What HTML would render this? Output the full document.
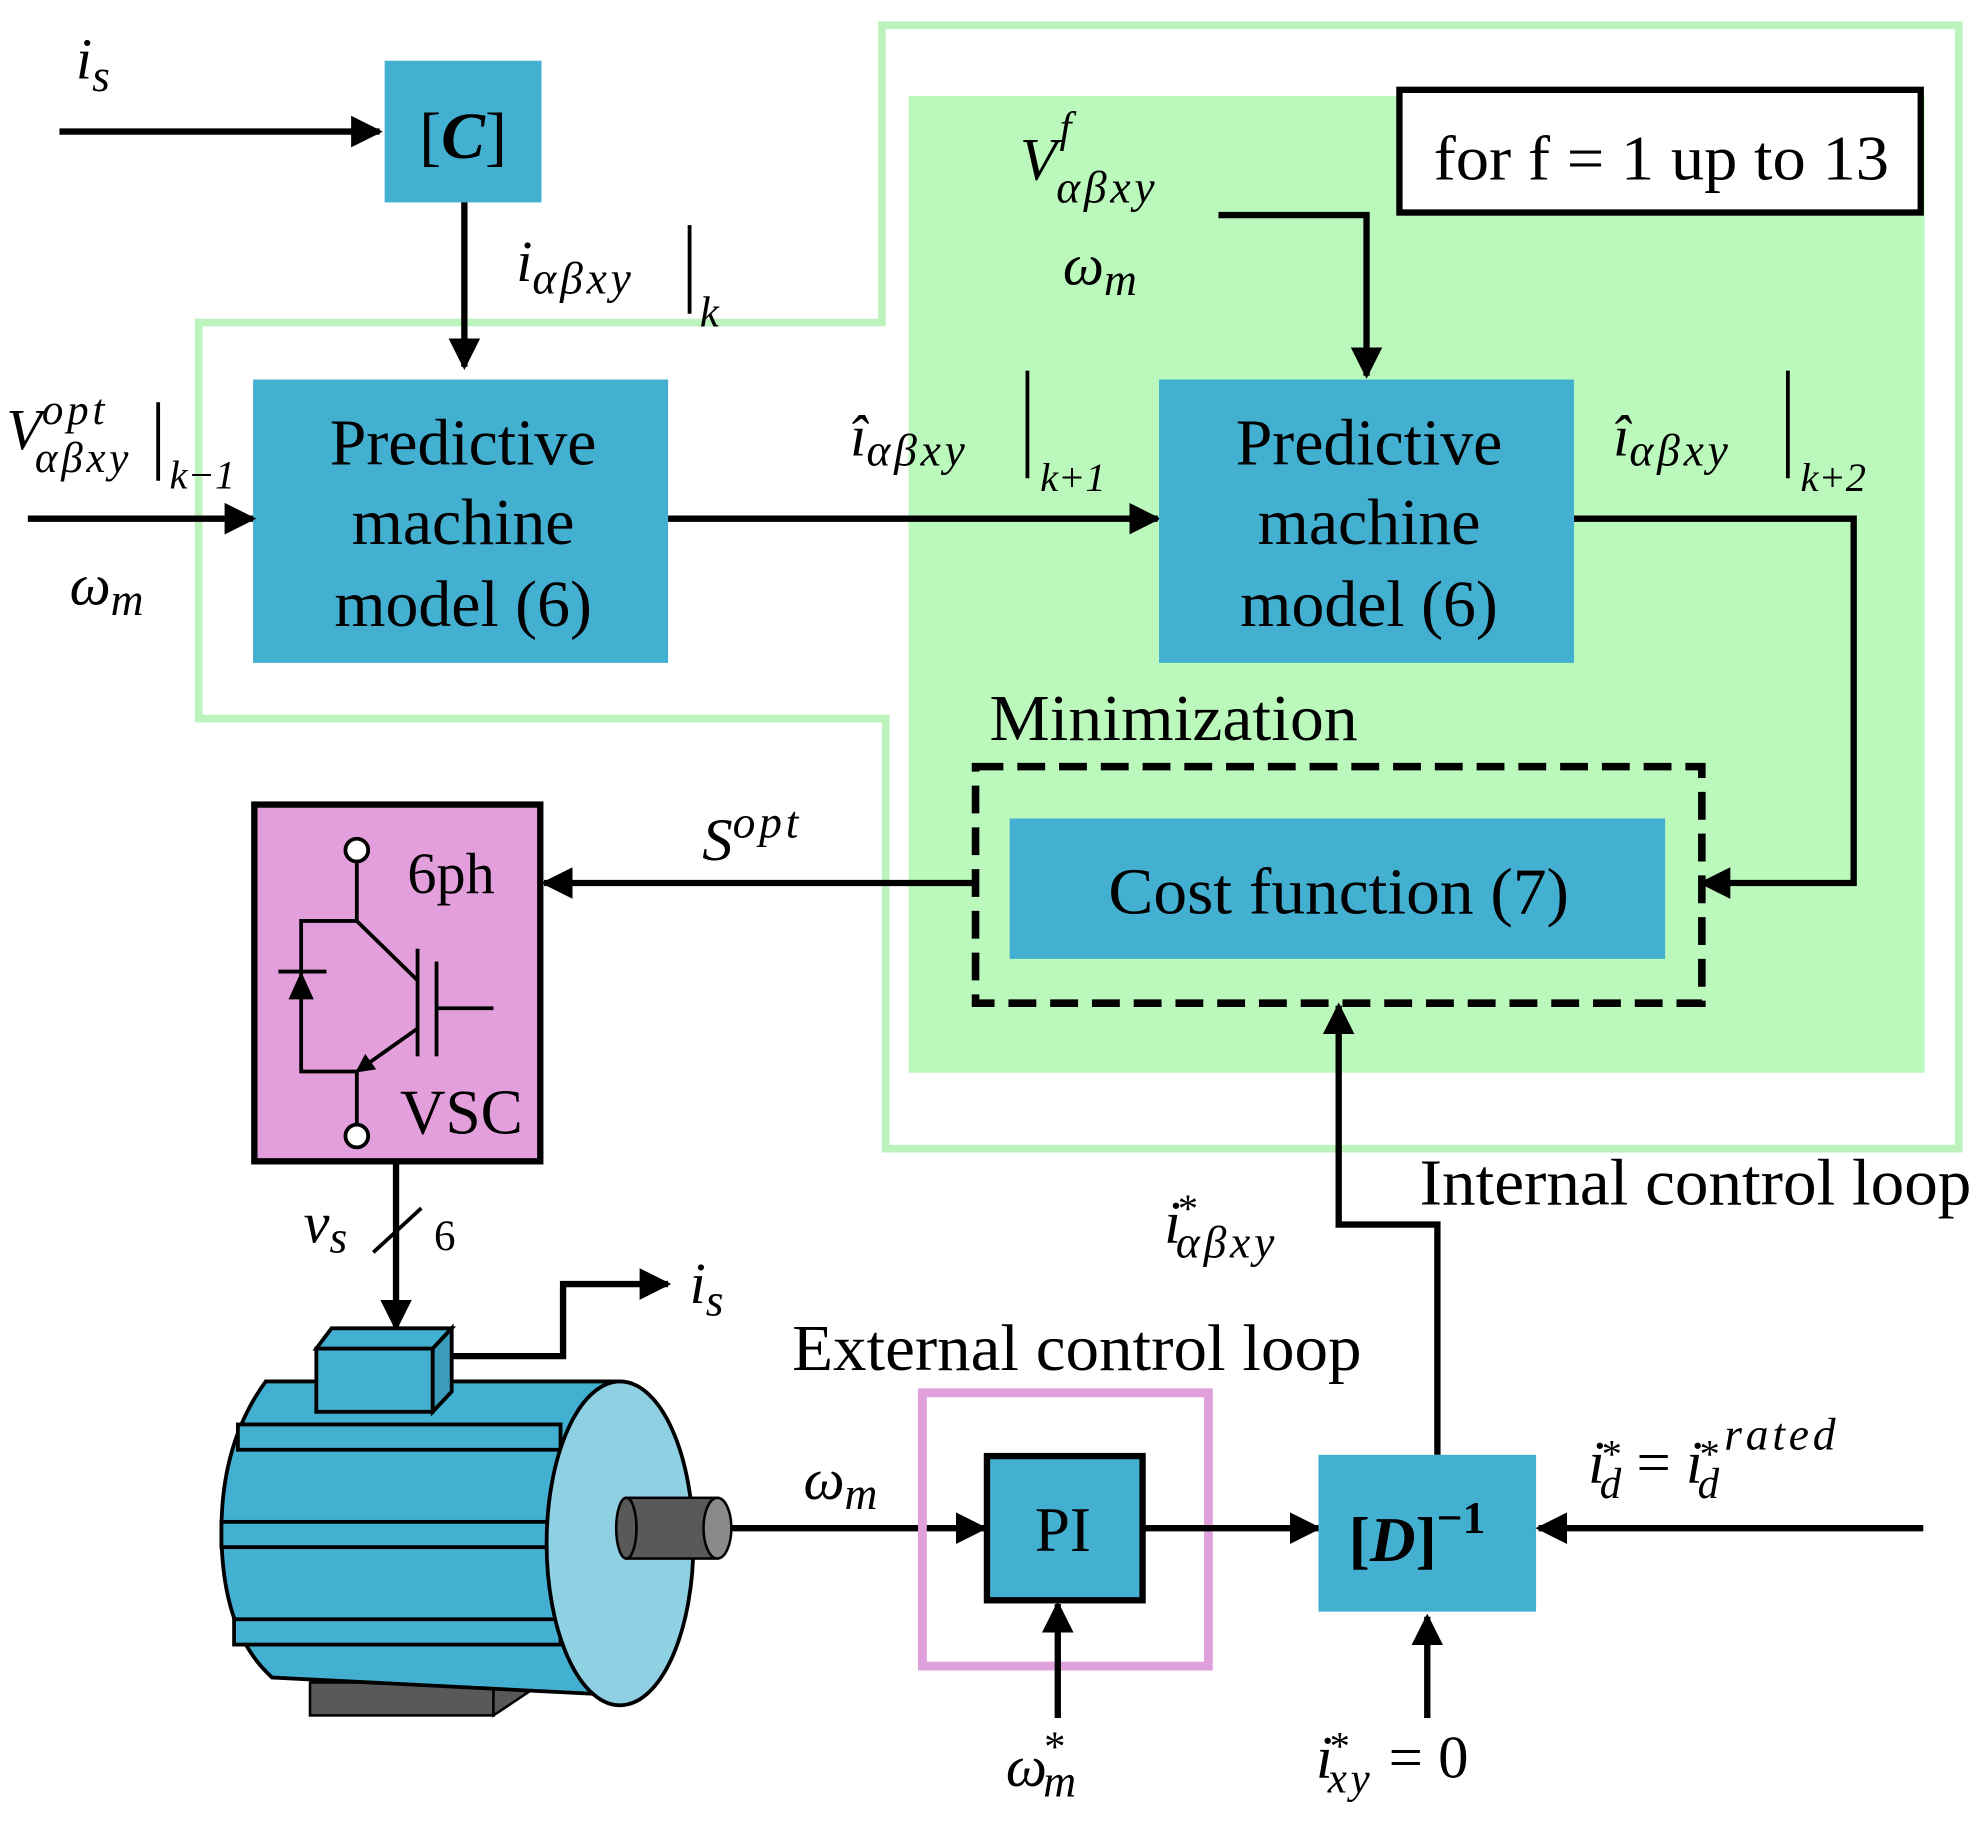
<!DOCTYPE html>
<html><head><meta charset="utf-8"><style>
html,body{margin:0;padding:0;background:#fff}
svg{display:block}
text{font-family:"Liberation Serif",serif;fill:#000}
.i{font-style:italic}
.s{letter-spacing:3px}
</style></head><body>
<svg width="1984" height="1828" viewBox="0 0 1568 1445" preserveAspectRatio="none" xmlns="http://www.w3.org/2000/svg">
<defs>
<marker id="b" viewBox="0 0 10 10" refX="9" refY="5" markerWidth="5" markerHeight="5" orient="auto"><path d="M0,0 L10,5 L0,10z" fill="#000"/></marker>
</defs>
<path d="M697,20 L1548,20 L1548,908 L700,908 L700,568 L157,568 L157,255 L697,255 Z" fill="none" stroke="#bcf2bc" stroke-width="6"/>
<rect x="718" y="76" width="803" height="772" fill="#bbf8bb"/>
<rect x="1106" y="71" width="412" height="97" fill="#fff" stroke="#000" stroke-width="5"/>
<text x="1133" y="142" font-size="50" textLength="360" lengthAdjust="spacingAndGlyphs">for f = 1 up to 13</text>

<rect x="304" y="48" width="124" height="112" fill="#43afd1"/>
<text x="366" y="125" font-size="52" text-anchor="middle">[<tspan font-weight="bold" font-style="italic">C</tspan>]</text>
<line x1="47" y1="104" x2="300" y2="104" stroke="#000" stroke-width="5" marker-end="url(#b)"/>
<text x="60" y="62" font-size="46" class="i">i<tspan font-size="36" dy="10">s</tspan></text>
<line x1="367" y1="160" x2="367" y2="290" stroke="#000" stroke-width="5" marker-end="url(#b)"/>
<text x="408" y="222" font-size="46" class="i">i<tspan font-size="36" dy="10" class="s">αβxy</tspan></text>
<line x1="545" y1="178" x2="545" y2="248" stroke="#000" stroke-width="3"/>
<text x="553" y="258" font-size="34" class="i">k</text>

<rect x="200" y="300" width="328" height="224" fill="#43afd1"/>
<g font-size="52" text-anchor="middle"><text x="366" y="367">Predictive</text><text x="366" y="430">machine</text><text x="366" y="495">model (6)</text></g>
<line x1="22" y1="410" x2="200" y2="410" stroke="#000" stroke-width="5" marker-end="url(#b)"/>
<text x="5" y="355" font-size="46" class="i">V<tspan font-size="34" dy="-20" class="s">opt</tspan><tspan font-size="34" dx="-58" dy="38" class="s">αβxy</tspan></text>
<line x1="125" y1="318" x2="125" y2="380" stroke="#000" stroke-width="3"/>
<text x="134" y="386" font-size="32" class="i">k−1</text>
<text x="55" y="478" font-size="46" class="i">ω<tspan font-size="36" dy="8">m</tspan></text>

<line x1="528" y1="410" x2="915" y2="410" stroke="#000" stroke-width="5" marker-end="url(#b)"/>
<text x="672" y="360" font-size="46" class="i">î<tspan font-size="36" dy="8" class="s">αβxy</tspan></text>
<line x1="812" y1="293" x2="812" y2="378" stroke="#000" stroke-width="3"/>
<text x="822" y="388" font-size="32" class="i">k+1</text>

<rect x="916" y="300" width="328" height="224" fill="#43afd1"/>
<g font-size="52" text-anchor="middle"><text x="1082" y="367">Predictive</text><text x="1082" y="430">machine</text><text x="1082" y="495">model (6)</text></g>
<text x="806" y="142" font-size="48" class="i">V<tspan font-size="34" dy="-30" dx="2">f</tspan><tspan font-size="36" dx="-12" dy="48" class="s">αβxy</tspan></text>
<text x="840" y="225" font-size="46" class="i">ω<tspan font-size="36" dy="8">m</tspan></text>
<polyline points="963,170 1080,170 1080,297" fill="none" stroke="#000" stroke-width="5" marker-end="url(#b)"/>
<polyline points="1244,410 1465,410 1465,698 1345,698" fill="none" stroke="#000" stroke-width="5" marker-end="url(#b)"/>
<text x="1275" y="360" font-size="46" class="i">î<tspan font-size="36" dy="8" class="s">αβxy</tspan></text>
<line x1="1413" y1="293" x2="1413" y2="378" stroke="#000" stroke-width="3"/>
<text x="1423" y="388" font-size="32" class="i">k+2</text>

<text x="782" y="585" font-size="52" textLength="291" lengthAdjust="spacingAndGlyphs">Minimization</text>
<rect x="771" y="606" width="574" height="187" fill="none" stroke="#000" stroke-width="6" stroke-dasharray="22,11"/>
<rect x="798" y="647" width="518" height="111" fill="#43afd1"/>
<text x="876" y="722" font-size="52" textLength="364" lengthAdjust="spacingAndGlyphs">Cost function (7)</text>
<line x1="770" y1="698" x2="430" y2="698" stroke="#000" stroke-width="5" marker-end="url(#b)"/>
<text x="555" y="680" font-size="48" class="i">S<tspan font-size="36" dy="-18" class="s">opt</tspan></text>

<rect x="201" y="636" width="226" height="282" fill="#e39fdc" stroke="#000" stroke-width="5"/>
<text x="322" y="706" font-size="46">6ph</text>
<text x="316" y="896" font-size="50">VSC</text>
<g stroke="#000" stroke-width="3" fill="none">
<circle cx="282" cy="672" r="9" fill="#fff"/>
<circle cx="282" cy="898" r="9" fill="#fff"/>
<line x1="282" y1="681" x2="282" y2="728"/>
<line x1="282" y1="728" x2="330" y2="775"/>
<line x1="330" y1="813" x2="282" y2="847" marker-end="url(#b)"/>
<line x1="282" y1="847" x2="282" y2="889"/>
<line x1="330" y1="750" x2="330" y2="835"/>
<line x1="345" y1="760" x2="345" y2="835"/>
<line x1="345" y1="797" x2="390" y2="797"/>
<polyline points="282,728 238,728 238,847 282,847"/>
<line x1="220" y1="768" x2="258" y2="768"/>
</g>
<path d="M228,790 L248,790 L238,768z" fill="#000"/>

<line x1="313" y1="918" x2="313" y2="1050" stroke="#000" stroke-width="5" marker-end="url(#b)"/>
<line x1="295" y1="990" x2="333" y2="955" stroke="#000" stroke-width="3"/>
<text x="240" y="982" font-size="46" class="i">v<tspan font-size="36" dy="8">s</tspan></text>
<text x="343" y="988" font-size="34">6</text>

<polyline points="345,1072 445,1072 445,1015 528,1015" fill="none" stroke="#000" stroke-width="5" marker-end="url(#b)"/>
<text x="545" y="1030" font-size="46" class="i">i<tspan font-size="36" dy="10">s</tspan></text>
<rect x="245" y="1330" width="145" height="26" fill="#595959" stroke="#000" stroke-width="2"/>
<path d="M390,1330 L420,1310 L420,1336 L390,1356z" fill="#595959" stroke="#000" stroke-width="2"/>
<path d="M490,1092 L210,1092 Q175,1140 175,1210 Q175,1290 215,1326 L490,1340z" fill="#43afd1" stroke="#000" stroke-width="3"/>
<g fill="#43afd1" stroke="#000" stroke-width="3">
<rect x="188" y="1126" width="255" height="20"/>
<rect x="175" y="1203" width="258" height="20"/>
<rect x="185" y="1280" width="258" height="20"/>
</g>
<ellipse cx="490" cy="1220" rx="58" ry="128" fill="#8fd0e3" stroke="#000" stroke-width="3"/>
<rect x="495" y="1184" width="72" height="48" fill="#595959" stroke="#000" stroke-width="2"/>
<ellipse cx="495" cy="1208" rx="8" ry="24" fill="#595959" stroke="#000" stroke-width="2"/>
<ellipse cx="567" cy="1208" rx="11" ry="24" fill="#8a8a8a" stroke="#000" stroke-width="2"/>
<rect x="250" y="1066" width="92" height="50" fill="#43afd1" stroke="#000" stroke-width="3"/>
<path d="M250,1066 L262,1050 L357,1050 L342,1066z" fill="#43afd1" stroke="#000" stroke-width="3"/>
<path d="M342,1066 L357,1050 L357,1100 L342,1116z" fill="#3a9bbb" stroke="#000" stroke-width="3"/>

<line x1="578" y1="1208" x2="778" y2="1208" stroke="#000" stroke-width="5" marker-end="url(#b)"/>
<text x="635" y="1185" font-size="46" class="i">ω<tspan font-size="36" dy="8">m</tspan></text>

<text x="626" y="1083" font-size="52" textLength="450" lengthAdjust="spacingAndGlyphs">External control loop</text>
<rect x="729" y="1101" width="226" height="216" fill="none" stroke="#e0a0dc" stroke-width="7"/>
<rect x="780" y="1151" width="123" height="114" fill="#43afd1" stroke="#000" stroke-width="5"/>
<text x="840" y="1226" font-size="50" text-anchor="middle">PI</text>
<line x1="836" y1="1358" x2="836" y2="1268" stroke="#000" stroke-width="5" marker-end="url(#b)"/>
<text x="795" y="1412" font-size="46" class="i">ω<tspan font-size="34" dy="-20" dx="-4">*</tspan><tspan font-size="36" dx="-16" dy="28">m</tspan></text>
<line x1="903" y1="1208" x2="1042" y2="1208" stroke="#000" stroke-width="5" marker-end="url(#b)"/>

<rect x="1042" y="1150" width="172" height="124" fill="#43afd1"/>
<text x="1066" y="1234" font-size="50" font-weight="bold">[<tspan font-style="italic">D</tspan>]<tspan font-size="36" dy="-22">−1</tspan></text>
<line x1="1520" y1="1208" x2="1216" y2="1208" stroke="#000" stroke-width="5" marker-end="url(#b)"/>
<text x="1255" y="1172" font-size="48" class="i">i<tspan font-size="32" dy="-12" dx="-4">*</tspan><tspan font-size="34" dx="-16" dy="24">d</tspan><tspan dy="-12" font-style="normal"> = </tspan>i<tspan font-size="32" dy="-12" dx="-4">*</tspan><tspan font-size="34" dx="-16" dy="24">d</tspan><tspan font-size="36" dy="-38" dx="4" class="s">rated</tspan></text>
<line x1="1128" y1="1358" x2="1128" y2="1278" stroke="#000" stroke-width="5" marker-end="url(#b)"/>
<text x="1040" y="1405" font-size="48" class="i">i<tspan font-size="32" dy="-14" dx="-4">*</tspan><tspan font-size="34" dx="-16" dy="26" class="s">xy</tspan><tspan dy="-12" font-style="normal"> = 0</tspan></text>
<polyline points="1136,1150 1136,968 1058,968 1058,795" fill="none" stroke="#000" stroke-width="5" marker-end="url(#b)"/>
<text x="920" y="982" font-size="48" class="i">i<tspan font-size="32" dy="-16" dx="-4">*</tspan><tspan font-size="36" dx="-16" dy="28" class="s">αβxy</tspan></text>
<text x="1122" y="952" font-size="52" textLength="436" lengthAdjust="spacingAndGlyphs">Internal control loop</text>
</svg>
</body></html>
